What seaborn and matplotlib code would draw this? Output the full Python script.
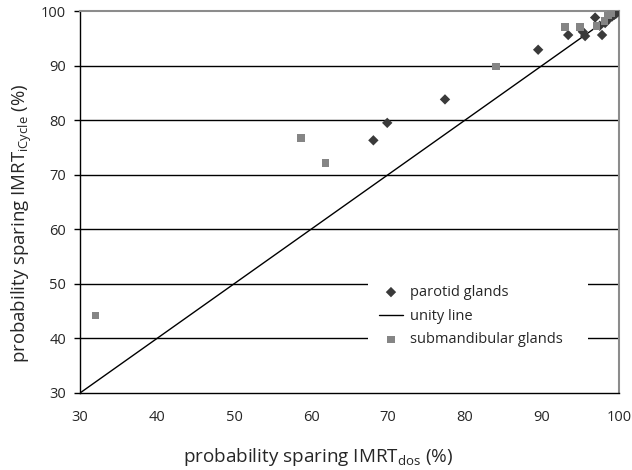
import matplotlib
matplotlib.use("Agg")
import matplotlib.pyplot as plt
import seaborn as sns
import pandas as pd

parotid_x = [68.1, 69.9, 77.4, 89.5, 93.4, 95.3, 95.6, 96.9, 97.5, 97.8, 98.2, 98.8, 99.1, 99.4, 99.6, 99.8, 99.9]
parotid_y = [76.3, 79.5, 83.8, 92.9, 95.6, 96.2, 95.4, 98.8, 97.3, 95.6, 97.8, 98.7, 99.0, 99.3, 99.5, 99.8, 100.0]

subm_x = [32.0, 58.7, 61.9, 84.0, 93.0, 94.9, 97.1, 98.1, 98.6, 99.0]
subm_y = [44.2, 76.7, 72.1, 89.8, 97.1, 97.1, 97.2, 98.2, 99.2, 99.6]

unity = [30, 100]
ticks = [30, 40, 50, 60, 70, 80, 90, 100]

sns.set_style("white")
plt.rcParams['font.family'] = ['Open Sans', 'DejaVu Sans']

W, H = 632, 470
fig = plt.figure(figsize=(W/100, H/100), dpi=100)
ax = fig.add_axes([80/W, 1-393/H, (619-80)/W, (393-11)/H])

for t in ticks[1:-1]:
    ax.axhline(t, color='black', lw=1.0, zorder=1)

df_p = pd.DataFrame({'x': parotid_x, 'y': parotid_y})
df_s = pd.DataFrame({'x': subm_x, 'y': subm_y})
df_u = pd.DataFrame({'x': unity, 'y': unity})

sns.scatterplot(data=df_p, x='x', y='y', ax=ax, marker='D', s=28, color='#3a3a3a',
                edgecolor='none', label='parotid glands', zorder=3)
sns.lineplot(data=df_u, x='x', y='y', ax=ax, color='black', lw=1.0, label='unity line', zorder=2)
sns.scatterplot(data=df_s, x='x', y='y', ax=ax, marker='s', s=30, color='#858585',
                edgecolor='none', label='submandibular glands', zorder=3)

ax.set_xlim(30, 100)
ax.set_ylim(30, 100)
ax.set_xticks(ticks)
ax.set_yticks(ticks)
ax.tick_params(axis='x', length=0, labelsize=10.5, pad=12)
ax.tick_params(axis='y', length=4, width=1, direction='out', color='black', labelsize=10.5, pad=6, left=True)

for s in ['left', 'bottom']:
    ax.spines[s].set_color('black')
    ax.spines[s].set_linewidth(1.0)
for s in ['top', 'right']:
    ax.spines[s].set_color('#8c8c8c')
    ax.spines[s].set_linewidth(1.5)

ax.set_xlabel(r'probability sparing IMRT$_{\mathregular{dos}}$ (%)', fontsize=13.6)
ax.set_ylabel(r'probability sparing IMRT$_{\mathregular{iCycle}}$ (%)', fontsize=13.4)
ax.xaxis.set_label_coords((318-80)/539, 1-(457-11)/382)
ax.yaxis.set_label_coords((22-80)/539, 1-(223-11)/382)
ax.xaxis.label.set_va('center')
ax.yaxis.label.set_va('center')

x0 = (368-80)/539
x1 = (588-80)/539
ytop = 1-(274-11)/382
leg = ax.legend(loc='upper left', bbox_to_anchor=(x0, ytop-0.2, x1-x0, 0.2), mode='expand',
                frameon=True, fontsize=10.5, handlelength=1.65, handletextpad=0.48, labelspacing=0.6,
                borderpad=0.75, borderaxespad=0)
leg.get_frame().set_facecolor('white')
leg.get_frame().set_edgecolor('none')
leg.get_frame().set_alpha(1)
leg.get_frame().set_boxstyle('square', pad=0)
leg.set_zorder(5)

fig.savefig('out.png', dpi=100)
